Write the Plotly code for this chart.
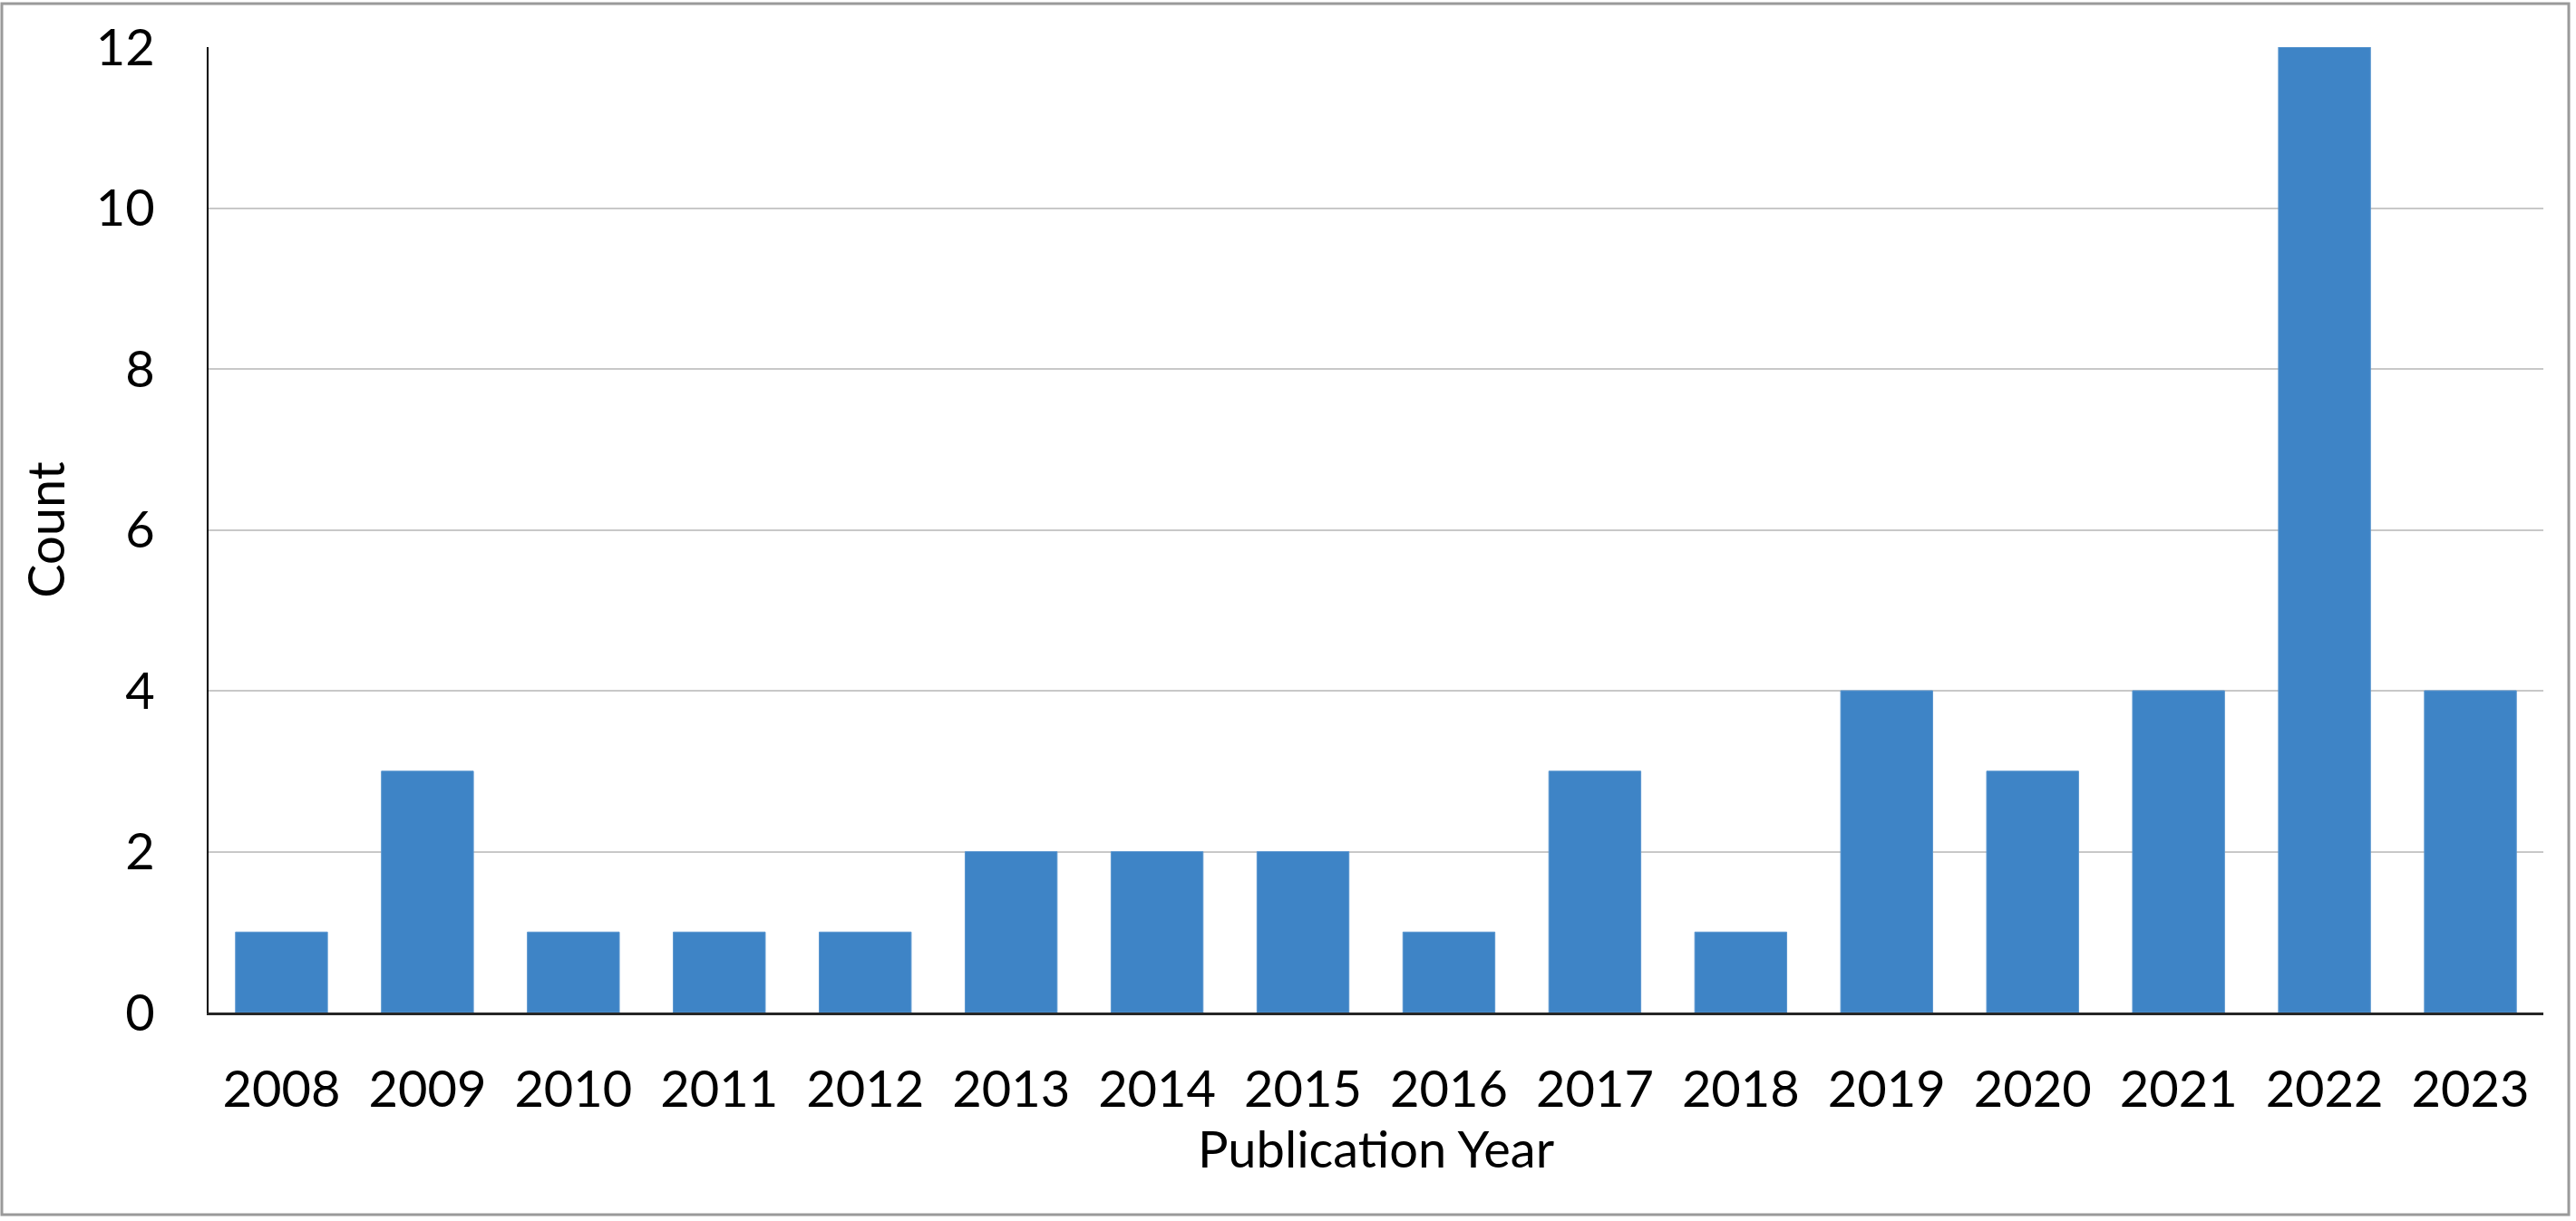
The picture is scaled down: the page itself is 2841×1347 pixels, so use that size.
import plotly.graph_objects as go

years = ["2008", "2009", "2010", "2011", "2012", "2013", "2014", "2015",
         "2016", "2017", "2018", "2019", "2020", "2021", "2022", "2023"]
counts = [1, 3, 1, 1, 1, 2, 2, 2, 1, 3, 1, 4, 3, 4, 12, 4]
y_ticks = [0, 2, 4, 6, 8, 10, 12]

W, H = 2841, 1347
L, R, T, B = 230, 36, 52, 230
FONT = "Lato, Calibri, sans-serif"

fig = go.Figure(go.Bar(
    x=years,
    y=counts,
    marker=dict(color="#3E84C6", line=dict(color="#5A96CF", width=1)),
    width=0.63,
))

fig.update_layout(
    width=W,
    height=H,
    margin=dict(l=L, r=R, t=T, b=B),
    paper_bgcolor="white",
    plot_bgcolor="white",
    showlegend=False,
    font=dict(family=FONT, size=56, color="black"),
)

fig.update_xaxes(
    type="category",
    showgrid=False,
    showline=True,
    linecolor="#262626",
    linewidth=3,
    ticks="",
    ticklabelstandoff=34,
    tickfont=dict(size=56),
    title=dict(text="Publication Year", font=dict(size=56), standoff=14),
)

fig.update_yaxes(
    range=[0, 12],
    tickvals=y_ticks,
    showgrid=True,
    gridcolor="#C8C8C8",
    gridwidth=2,
    showline=True,
    linecolor="#000000",
    linewidth=2,
    zeroline=False,
    ticks="",
    ticklabelstandoff=46,
    tickfont=dict(size=56),
    title=dict(text="Count", font=dict(size=56), standoff=16),
)

# outer frame round the whole chart, placed in pixel terms
pw, ph = W - L - R, H - T - B
def px_x(p):
    return (p - L) / pw
def px_y(p):
    return (H - B - p) / ph

fig.add_shape(
    type="rect", xref="paper", yref="paper",
    x0=px_x(2), x1=px_x(2833), y0=px_y(1340), y1=px_y(4),
    line=dict(color="#9A9A9A", width=3),
    layer="above",
)

fig.write_html(
    "out.html",
    config={"displayModeBar": False},
    post_script="document.body.style.margin='0';document.body.style.overflow='hidden';",
)
